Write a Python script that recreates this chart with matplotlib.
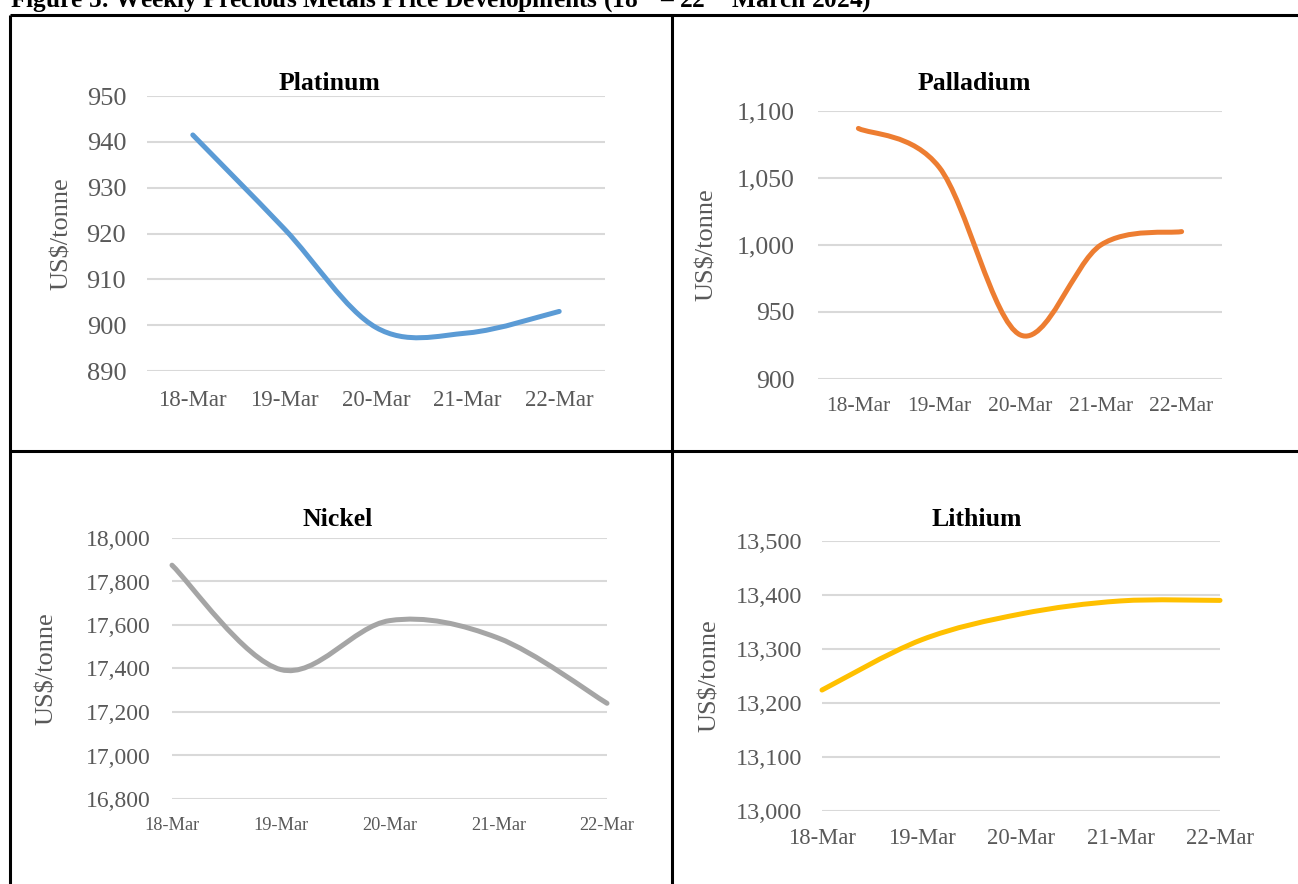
import matplotlib
matplotlib.use("Agg")
import matplotlib.pyplot as plt
from matplotlib.path import Path
from matplotlib.patches import PathPatch
from matplotlib.lines import Line2D
from matplotlib.ticker import FuncFormatter

plt.rcParams['font.family'] = ['Liberation Serif', 'DejaVu Serif']
plt.rcParams['mathtext.fontset'] = 'custom'
plt.rcParams['mathtext.rm'] = 'Liberation Serif'
plt.rcParams['mathtext.bf'] = 'Liberation Serif:bold'

# ---------------- data ----------------
dates = ["18-Mar", "19-Mar", "20-Mar", "21-Mar", "22-Mar"]
platinum = [941.5, 921, 899.5, 898.3, 903]
palladium = [1087, 1058, 933, 1000, 1010]
nickel = [17875, 17395, 17620, 17540, 17240]
lithium = [13224, 13317, 13365, 13389, 13390]

platinum_ticks = [890, 900, 910, 920, 930, 940, 950]
palladium_ticks = [900, 950, 1000, 1050, 1100]
nickel_ticks = [16800, 17000, 17200, 17400, 17600, 17800, 18000]
lithium_ticks = [13000, 13100, 13200, 13300, 13400, 13500]

titles = ["Platinum", "Palladium", "Nickel", "Lithium"]
ylabel = "US$/tonne"
fig_title = r"Figure 5: Weekly Precious Metals Price Developments (18$^{\mathbf{th}}$ – 22$^{\mathbf{nd}}$ March 2024)"

colors = ["#5B9BD5", "#ED7D31", "#A5A5A5", "#FFC000"]

W, H = 1298, 884
fig = plt.figure(figsize=(W / 100, H / 100), dpi=100)


def rect(x0, x1, ytop, ybot):
    return [x0 / W, 1 - ybot / H, (x1 - x0) / W, (ybot - ytop) / H]


def smooth_path(xs, ys):
    # Excel-style smoothed line: cubic Bezier with Catmull-Rom control points
    n = len(xs)
    px = [xs[0]] + list(xs) + [xs[-1]]
    py = [ys[0]] + list(ys) + [ys[-1]]
    verts = [(xs[0], ys[0])]
    codes = [Path.MOVETO]
    for i in range(1, n):
        p0x, p0y = px[i - 1], py[i - 1]
        p1x, p1y = px[i], py[i]
        p2x, p2y = px[i + 1], py[i + 1]
        p3x, p3y = px[i + 2], py[i + 2]
        c1 = (p1x + (p2x - p0x) / 6, p1y + (p2y - p0y) / 6)
        c2 = (p2x - (p3x - p1x) / 6, p2y - (p3y - p1y) / 6)
        verts += [c1, c2, (p2x, p2y)]
        codes += [Path.CURVE4] * 3
    return Path(verts, codes)


thou = FuncFormatter(lambda v, p: f"{v:,.0f}")

panels = [
    dict(vals=platinum, ticks=platinum_ticks, r=(147, 605, 96, 371), xlim=(-0.5, 4.5),
         tpos=(329, 83), ylx=62, xfs=16.5, yfs=19, xpad=14, ypad=15),
    dict(vals=palladium, ticks=palladium_ticks, r=(818, 1222, 111, 379), xlim=(-0.5, 4.5),
         tpos=(974, 83), ylx=707, xfs=15.5, yfs=18.5, xpad=13, ypad=17),
    dict(vals=nickel, ticks=nickel_ticks, r=(172, 607, 538, 799), xlim=(0, 4),
         tpos=(338, 520), ylx=47, xfs=13.2, yfs=17, xpad=13, ypad=15),
    dict(vals=lithium, ticks=lithium_ticks, r=(822, 1220, 541, 811), xlim=(0, 4),
         tpos=(977, 519), ylx=710, xfs=16.3, yfs=17.5, xpad=12, ypad=14),
]

for k, p in enumerate(panels):
    ax = fig.add_axes(rect(*p["r"]))
    x = list(range(len(dates)))
    ax.set_xlim(*p["xlim"])
    ax.set_ylim(p["ticks"][0], p["ticks"][-1])
    ax.set_yticks(p["ticks"])
    ax.yaxis.set_major_formatter(thou)
    ax.set_xticks(x)
    ax.set_xticklabels(dates)
    ax.tick_params(axis="y", length=0, labelsize=p["yfs"], labelcolor="#595959", pad=p["ypad"])
    ax.tick_params(axis="x", length=0, labelsize=p["xfs"], labelcolor="#595959", pad=p["xpad"])
    for s in ax.spines.values():
        s.set_visible(False)
    ax.grid(axis="y", color="#D9D9D9", linewidth=1.5)
    ax.set_axisbelow(True)
    ax.patch.set_alpha(0)
    patch = PathPatch(smooth_path(x, p["vals"]), facecolor="none", edgecolor=colors[k],
                      linewidth=3.6, capstyle="round", joinstyle="round", clip_on=False)
    ax.add_patch(patch)
    tx, ty = p["tpos"]
    fig.text(tx / W, 1 - ty / H, titles[k], fontsize=18.5, fontweight="bold",
             ha="center", va="center", color="black")
    ycen = (p["r"][2] + p["r"][3]) / 2
    fig.text(p["ylx"] / W, 1 - ycen / H, ylabel, fontsize=19, rotation=90,
             ha="center", va="center", color="#595959")

# table lines
lw = 2.2
for (x0, y0, x1, y1) in [(10, 15, 1298, 15), (10, 15, 10, 884), (671.5, 15, 671.5, 884),
                         (10, 451, 1298, 451)]:
    fig.add_artist(Line2D([x0 / W, x1 / W], [1 - y0 / H, 1 - y1 / H], color="black",
                          linewidth=lw, transform=fig.transFigure, solid_capstyle="butt"))

fig.text(10 / W, 1 - 8 / H, fig_title, fontsize=18.25, fontweight="bold", ha="left",
         va="baseline", color="black")

fig.savefig("out.png", dpi=100)
